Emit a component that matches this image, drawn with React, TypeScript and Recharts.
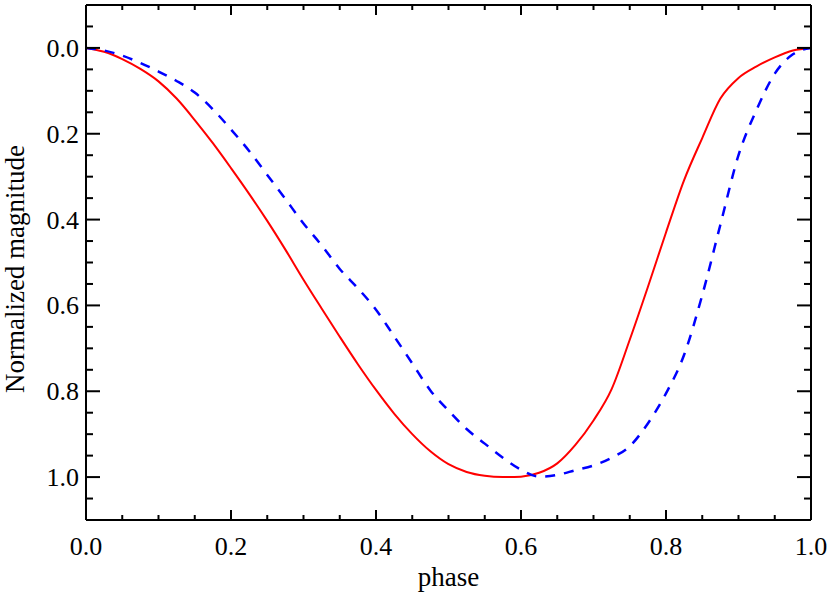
import React from "react";
import { LineChart, Line, XAxis, YAxis } from "recharts";

// phase grid and normalized magnitudes
const phase = [
  0, 0.025, 0.05, 0.075, 0.1, 0.125, 0.15, 0.175, 0.2, 0.225, 0.25, 0.275, 0.3, 0.325,
  0.35, 0.375, 0.4, 0.425, 0.45, 0.475, 0.5, 0.525, 0.55, 0.575, 0.6, 0.625, 0.65,
  0.675, 0.7, 0.725, 0.75, 0.775, 0.8, 0.825, 0.85, 0.875, 0.9, 0.925, 0.95, 0.975, 1,
];
const redMag = [
  0, 0.009, 0.026, 0.049, 0.078, 0.118, 0.168, 0.222, 0.28, 0.34, 0.403, 0.47, 0.54, 0.607,
  0.673, 0.737, 0.797, 0.852, 0.9, 0.94, 0.97, 0.988, 0.997, 1.0, 0.999, 0.99, 0.968,
  0.925, 0.868, 0.795, 0.68, 0.557, 0.43, 0.308, 0.21, 0.118, 0.07, 0.043, 0.022, 0.006, 0,
];
const blueMag = [
  0, 0.006, 0.018, 0.035, 0.055, 0.077, 0.104, 0.143, 0.19, 0.24, 0.296, 0.352, 0.409, 0.46,
  0.515, 0.56, 0.61, 0.672, 0.735, 0.798, 0.845, 0.888, 0.922, 0.955, 0.983, 0.999, 0.995,
  0.984, 0.973, 0.955, 0.928, 0.875, 0.805, 0.715, 0.576, 0.412, 0.25, 0.144, 0.06, 0.015, 0,
];

const xTicks = [
  0, 0.05, 0.1, 0.15, 0.2, 0.25, 0.3, 0.35, 0.4, 0.45, 0.5, 0.55, 0.6, 0.65, 0.7, 0.75,
  0.8, 0.85, 0.9, 0.95, 1,
];
const yTicks = [
  -0.05, 0, 0.05, 0.1, 0.15, 0.2, 0.25, 0.3, 0.35, 0.4, 0.45, 0.5, 0.55, 0.6, 0.65, 0.7,
  0.75, 0.8, 0.85, 0.9, 0.95, 1, 1.05,
];

const data = phase.map((p, i) => ({ phase: p, red: redMag[i], blue: blueMag[i] }));

const FONT = '"Liberation Serif", "Times New Roman", serif';
const isMajor = (v: number) => Math.round(v * 100) % 20 === 0;

// ticks point into the plot, labels only on the majors
const BottomTick = ({ x, y, payload }: any) => {
  const major = isMajor(payload.value);
  return (
    <g>
      <line x1={x} x2={x} y1={y} y2={y - (major ? 10 : 5)} stroke="#000" strokeWidth={2} />
      {major && (
        <text x={x} y={y + 35} textAnchor="middle" fontFamily={FONT} fontSize={26} fill="#000">
          {payload.value.toFixed(1)}
        </text>
      )}
    </g>
  );
};

const TopTick = ({ x, y, payload }: any) => {
  const major = isMajor(payload.value);
  return <line x1={x} x2={x} y1={y} y2={y + (major ? 10 : 5)} stroke="#000" strokeWidth={2} />;
};

const LeftTick = ({ x, y, payload }: any) => {
  const major = isMajor(payload.value);
  return (
    <g>
      <line x1={x} x2={x + (major ? 14 : 7)} y1={y} y2={y} stroke="#000" strokeWidth={2} />
      {major && (
        <text x={x - 7} y={y + 9} textAnchor="end" fontFamily={FONT} fontSize={26} fill="#000">
          {payload.value.toFixed(1)}
        </text>
      )}
    </g>
  );
};

const RightTick = ({ x, y, payload }: any) => {
  const major = isMajor(payload.value);
  return <line x1={x} x2={x - (major ? 14 : 7)} y1={y} y2={y} stroke="#000" strokeWidth={2} />;
};

const XTitle = () => (
  <text x={448.5} y={586} textAnchor="middle" fontFamily={FONT} fontSize={27} fill="#000">
    phase
  </text>
);

const YTitle = () => (
  <text x={24} y={269} transform="rotate(-90 24 269)" textAnchor="middle" fontFamily={FONT} fontSize={27} fill="#000">
    Normalized magnitude
  </text>
);

const frame = { stroke: "#000", strokeWidth: 2 };

export default function App() {
  return (
    <div style={{ position: "absolute", left: 0, top: 0, width: 830, height: 592, background: "#fff" }}>
      <LineChart width={830} height={592} data={data} margin={{ top: 4, right: 18, left: 0, bottom: 0 }}>
        <XAxis
          dataKey="phase"
          type="number"
          domain={[0, 1]}
          ticks={xTicks}
          interval={0}
          height={72}
          tickSize={0}
          tickMargin={0}
          axisLine={frame}
          tickLine={false}
          tick={<BottomTick />}
          label={<XTitle />}
          allowDataOverflow
        />
        <XAxis
          xAxisId="top"
          orientation="top"
          dataKey="phase"
          type="number"
          domain={[0, 1]}
          ticks={xTicks}
          interval={0}
          height={1}
          tickSize={0}
          tickMargin={0}
          axisLine={frame}
          tickLine={false}
          tick={<TopTick />}
          allowDataOverflow
        />
        <YAxis
          type="number"
          domain={[-0.1, 1.1]}
          reversed
          ticks={yTicks}
          interval={0}
          width={86}
          tickSize={0}
          tickMargin={0}
          axisLine={frame}
          tickLine={false}
          tick={<LeftTick />}
          label={<YTitle />}
          allowDataOverflow
        />
        <YAxis
          yAxisId="right"
          orientation="right"
          type="number"
          domain={[-0.1, 1.1]}
          reversed
          ticks={yTicks}
          interval={0}
          width={1}
          tickSize={0}
          tickMargin={0}
          axisLine={frame}
          tickLine={false}
          tick={<RightTick />}
          allowDataOverflow
        />
        <Line
          dataKey="red"
          type="monotone"
          stroke="#ff0000"
          strokeWidth={2}
          dot={false}
          activeDot={false}
          isAnimationActive={false}
        />
        <Line
          dataKey="blue"
          xAxisId="top"
          yAxisId="right"
          type="monotone"
          stroke="#0000ff"
          strokeWidth={2.5}
          strokeDasharray="10 9"
          dot={false}
          activeDot={false}
          isAnimationActive={false}
        />
      </LineChart>
    </div>
  );
}
